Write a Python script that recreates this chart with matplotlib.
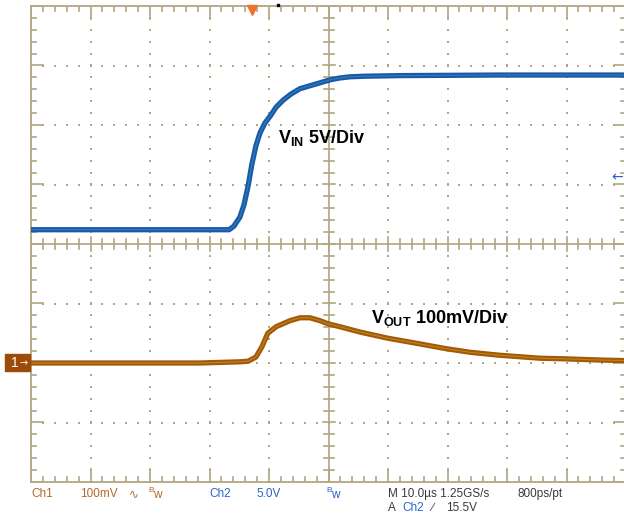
import numpy as np
import matplotlib
matplotlib.use("Agg")
import matplotlib.pyplot as plt
from matplotlib.patches import Rectangle

plt.rcParams['font.family'] = ['Liberation Sans', 'DejaVu Sans']
plt.rcParams['mathtext.fontset'] = 'custom'
plt.rcParams['mathtext.rm'] = 'Liberation Sans'
plt.rcParams['mathtext.bf'] = 'Liberation Sans:bold'

# trace data, in screen divisions (x: 10 div, y: -4..4 div)
vin_t = [0, 3.33, 3.41, 3.51, 3.58, 3.65, 3.71, 3.78, 3.85, 3.93, 4.02, 4.12,
         4.24, 4.37, 4.52, 4.69, 4.86, 5.03, 5.19, 5.36, 5.61, 6.2, 7.88, 10]
vin_v = [0.24, 0.24, 0.30, 0.45, 0.66, 0.98, 1.33, 1.65, 1.87, 2.03, 2.15, 2.30,
         2.42, 2.52, 2.61, 2.66, 2.71, 2.76, 2.79, 2.81, 2.82, 2.83, 2.84, 2.84]

vout_t = [0, 2.84, 3.51, 3.65, 3.78, 3.88, 3.98, 4.12, 4.35, 4.52, 4.69, 4.86,
          4.99, 5.19, 5.53, 5.98, 6.54, 6.98, 7.38, 7.88, 8.56, 8.98, 9.56, 10]
vout_v = [-2.0, -2.0, -1.98, -1.97, -1.90, -1.73, -1.50, -1.39, -1.29, -1.24, -1.24, -1.29,
          -1.34, -1.39, -1.48, -1.58, -1.68, -1.76, -1.82, -1.87, -1.92, -1.93, -1.95, -1.96]

# readout texts
line1 = [("Ch1", 31, '#b06a28'), ("100mV", 80, '#b06a28'), ("\u223f", 129, '#b06a28'),
         ("Ch2", 209, '#2a66c4'), ("5.0V", 256, '#2a66c4'),
         ("M 10.0\u00b5s 1.25GS/s", 388, '#3a3a3a'), ("800ps/pt", 517, '#3a3a3a')]
line2 = [("A", 388, '#3a3a3a'), ("Ch2", 402, '#2a66c4'), ("\u2215", 431, '#3a3a3a'),
         ("15.5V", 446, '#3a3a3a')]
bw_marks = [(148, '#b06a28'), (326, '#2a66c4')]

W, H = 624, 522
grid_c = '#b0a680'
px = 1 / 59.5  # one pixel in divisions

fig = plt.figure(figsize=(W / 100, H / 100), dpi=100)
ax = fig.add_axes([31 / W, 40 / H, 595 / W, 476 / H])
ax.set_xlim(0, 10)
ax.set_ylim(-4, 4)
ax.set_xticks([])
ax.set_yticks([])
for s in ax.spines.values():
    s.set_color(grid_c)
    s.set_linewidth(1.3)

# dotted graticule
for gx in range(1, 10):
    if gx == 5:
        continue
    ys = np.arange(-4, 4.01, 0.2)
    ax.scatter(np.full(len(ys), gx), ys, s=1.2, marker='s', color=grid_c, lw=0)
for gy in range(-3, 4):
    if gy == 0:
        continue
    xs = np.arange(0, 10.01, 0.2)
    ax.scatter(xs, np.full(len(xs), gy), s=1.2, marker='s', color=grid_c, lw=0)

# centre cross
ax.axvline(5, color=grid_c, lw=1.2)
ax.axhline(0, color=grid_c, lw=1.2)

# ticks on border and centre lines
for i, t in enumerate(np.arange(0, 10.01, 0.2)):
    major = i % 5 == 0
    L = (13 if major else 5) * px
    c = (7 if major else 5) * px
    ax.plot([t, t], [4, 4 - L], color=grid_c, lw=1.2)
    ax.plot([t, t], [-4, -4 + L], color=grid_c, lw=1.2)
    ax.plot([t, t], [-c, c], color=grid_c, lw=1.2)
for i, t in enumerate(np.arange(-4, 4.01, 0.2)):
    major = i % 5 == 0
    L = (12 if major else 5) * px
    c = (6 if major else 5) * px
    ax.plot([0, L], [t, t], color=grid_c, lw=1.2)
    ax.plot([10, 10 - L], [t, t], color=grid_c, lw=1.2)
    ax.plot([5 - c, 5 + c], [t, t], color=grid_c, lw=1.2)

# traces
ax.plot(vin_t, vin_v, color='#1c58a8', lw=3.8, solid_capstyle='butt', zorder=5)
ax.plot(vin_t, vin_v, color='#36b4d0', lw=0.8, alpha=0.45, zorder=6)
ax.plot(vout_t, vout_v, color='#a4580a', lw=3.8, solid_capstyle='butt', zorder=5)
ax.plot(vout_t, vout_v, color='#d8be28', lw=0.8, alpha=0.45, zorder=6)

# labels
ax.text(4.15, 1.70, r"$\mathbf{V_{IN}}$ 5V/Div", fontsize=13, fontweight='bold',
        va='baseline', color='black', zorder=7)
ax.text(5.71, -1.33, r"$\mathbf{V_{OUT}}$ 100mV/Div", fontsize=13, fontweight='bold',
        va='baseline', color='black', zorder=7)

# trigger position marker and small dot
ax.plot([3.71], [3.93], marker='v', markersize=7, color='#f07030', clip_on=False, zorder=8)
ax.plot([4.15], [4.02], marker='s', markersize=1.5, color='black', clip_on=False, zorder=8)

# trigger level arrow (right)
fig.text(617 / W, 1 - 177 / H, "\u2190", color='#2a62c0', fontsize=10,
         ha='center', va='center', family=['DejaVu Sans'])

# channel 1 ground marker
fig.patches.append(Rectangle((5 / W, 1 - 371 / H), 25 / W, 17 / H,
                             transform=fig.transFigure, color='#9c4c08'))
fig.text(11 / W, 1 - 363 / H, "1", color='white', fontsize=10, va='center')
fig.text(20 / W, 1 - 363 / H, "\u2192", color='white', fontsize=7, va='center',
         family=['DejaVu Sans'])

# readout
for txt, x, c in line1:
    fig.text(x / W, 1 - 494 / H, txt, color=c, fontsize=8.5, va='center')
for txt, x, c in line2:
    fig.text(x / W, 1 - 508 / H, txt, color=c, fontsize=8.5, va='center')
for x, c in bw_marks:
    fig.text(x / W, 1 - 491 / H, "B", color=c, fontsize=6, va='center')
    fig.text((x + 5) / W, 1 - 495 / H, "w", color=c, fontsize=8.5, va='center')

fig.savefig("out.png", dpi=100)
